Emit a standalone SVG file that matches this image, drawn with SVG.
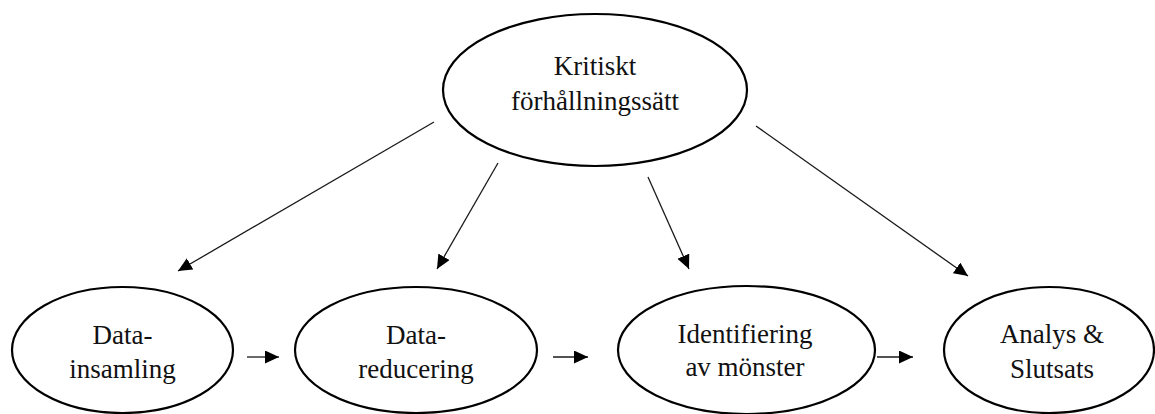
<svg xmlns="http://www.w3.org/2000/svg" width="1155" height="414" viewBox="0 0 1155 414">
<style>
.node ellipse{fill:#fff;stroke:#000;stroke-width:2.2}
.node text{font-family:"Liberation Serif","Times New Roman",serif;font-size:27px;fill:#111;text-anchor:middle}
.edges line{stroke:#1a1a1a;stroke-width:1.3;marker-end:url(#arr)}
</style>
<defs>
<marker id="arr" markerUnits="userSpaceOnUse" markerWidth="15" markerHeight="14" refX="14" refY="6.5" orient="auto">
<path d="M0,0 L14,6.5 L0,13 z" fill="#000"/>
</marker>
</defs>
<rect width="1155" height="414" fill="#fff"/>
<g class="edges">
<line x1="434" y1="122" x2="178" y2="271"/>
<line x1="498" y1="163" x2="437" y2="269"/>
<line x1="648" y1="177" x2="689" y2="269"/>
<line x1="756" y1="126" x2="968" y2="276"/>
<line x1="247" y1="357" x2="279" y2="357"/>
<line x1="553" y1="357" x2="588" y2="357"/>
<line x1="877" y1="357" x2="913" y2="357"/>
</g>
<g id="kritiskt" class="node">
<ellipse cx="595" cy="90" rx="152" ry="76"/>
<text x="595" y="75">Kritiskt</text>
<text x="595" y="110">förhållningssätt</text>
</g>
<g id="datainsamling" class="node">
<ellipse cx="122.5" cy="350" rx="110.5" ry="63"/>
<text x="122.5" y="344">Data-</text>
<text x="122.5" y="378">insamling</text>
</g>
<g id="datareducering" class="node">
<ellipse cx="416" cy="350" rx="121" ry="63"/>
<text x="416" y="344">Data-</text>
<text x="416" y="378">reducering</text>
</g>
<g id="identifiering" class="node">
<ellipse cx="746.5" cy="350" rx="128.5" ry="64"/>
<text x="745" y="343">Identifiering</text>
<text x="745" y="376">av mönster</text>
</g>
<g id="analys" class="node">
<ellipse cx="1049" cy="350" rx="105" ry="63"/>
<text x="1052" y="343">Analys &amp;</text>
<text x="1052" y="378">Slutsats</text>
</g>
</svg>
